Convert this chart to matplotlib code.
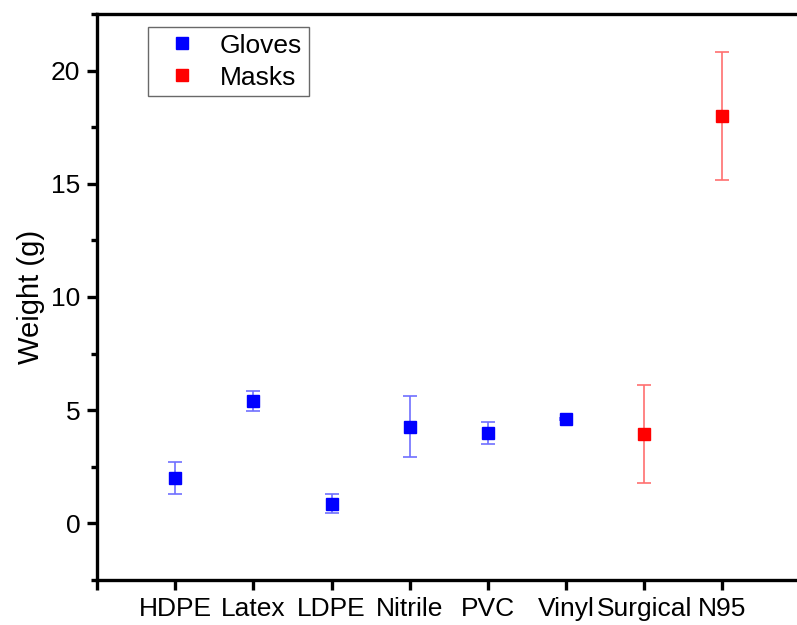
import matplotlib
matplotlib.use("Agg")
import matplotlib.pyplot as plt
from matplotlib.ticker import MultipleLocator
from matplotlib.lines import Line2D

plt.rcParams['font.family'] = ['Liberation Sans', 'DejaVu Sans']

categories = ["HDPE", "Latex", "LDPE", "Nitrile", "PVC", "Vinyl", "Surgical", "N95"]
glove_x = [1, 2, 3, 4, 5, 6]
glove_w = [2.0, 5.4, 0.87, 4.28, 4.0, 4.6]
glove_err = [0.7, 0.45, 0.43, 1.35, 0.48, 0.05]
mask_x = [7, 8]
mask_w = [3.95, 18.0]
mask_err = [2.17, 2.82]

fig = plt.figure(figsize=(7.97, 6.25), dpi=100)
ax = fig.add_axes([97/797, 45/625, 1 - 97/797 + 0.002, (580-14)/625])

ax.errorbar(glove_x, glove_w, yerr=glove_err, fmt='s', color='#0000ff', ms=9,
            ecolor='#6f6fff', elinewidth=1.2, capsize=5, capthick=1.2, zorder=3)
ax.errorbar(mask_x, mask_w, yerr=mask_err, fmt='s', color='#ff0000', ms=9,
            ecolor='#ff6f6f', elinewidth=1.2, capsize=5, capthick=1.2, zorder=3)

ax.set_xlim(0, 700/78)
ax.set_ylim(-2.5, 22.5)
ax.set_xticks([0] + list(range(1, 9)))
ax.set_xticklabels([""] + categories)
ax.yaxis.set_minor_locator(MultipleLocator(2.5))
ax.set_yticks([0, 5, 10, 15, 20])

for s in ['left', 'bottom', 'top']:
    ax.spines[s].set_linewidth(2.4)
ax.spines['right'].set_visible(False)
ax.tick_params(axis='both', which='major', direction='out', length=7, width=2.4, labelsize=19, pad=5)
ax.tick_params(axis='y', which='minor', direction='out', length=4, width=2.4)
ax.tick_params(axis='x', which='major', pad=5)

ax.set_ylabel("Weight (g)", fontsize=21, labelpad=4)

handles = [Line2D([], [], ls='none', marker='s', color='#0000ff', ms=8),
           Line2D([], [], ls='none', marker='s', color='#ff0000', ms=8)]
leg = ax.legend(handles, ['Gloves', 'Masks'], loc='upper left', bbox_to_anchor=(0.072, 0.977),
                fontsize=19, frameon=True, fancybox=False, edgecolor='#444444',
                handletextpad=0.4, borderpad=0.25, labelspacing=0.3, handlelength=2.1,
                borderaxespad=0, numpoints=1)
leg.get_frame().set_linewidth(1.0)

fig.savefig("out.png", dpi=100)
